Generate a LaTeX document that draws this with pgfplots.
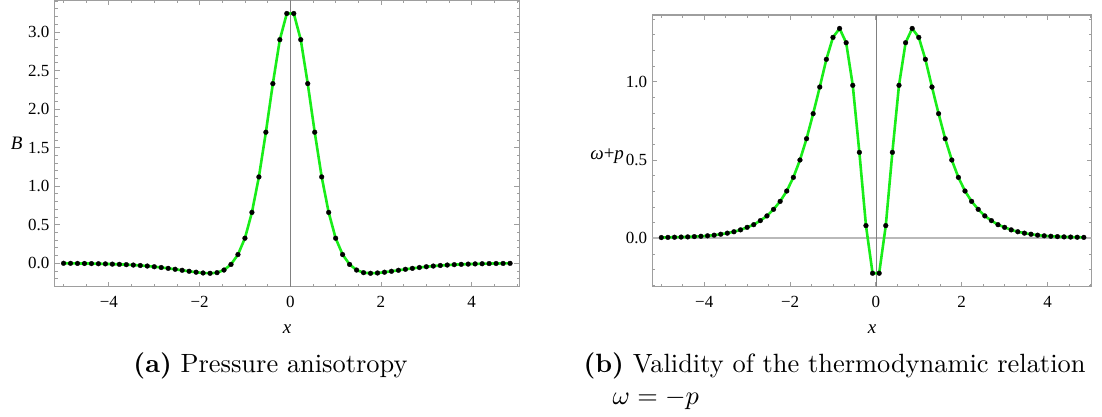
\documentclass[border=0pt]{standalone}
\usepackage{pgfplots}
\pgfplotsset{compat=1.18}
\usepackage{pgfplotstable}
\usepackage{fontspec}
\newfontfamily\tf{Liberation Serif}
\definecolor{mgreen}{rgb}{0.1,0.93,0.1}
\definecolor{framegray}{gray}{0.62}

\pgfplotstableread{
x y
-5.0000 0.000
-4.8462 -0.001
-4.6923 -0.002
-4.5385 -0.003
-4.3846 -0.004
-4.2308 -0.006
-4.0769 -0.008
-3.9231 -0.011
-3.7692 -0.014
-3.6154 -0.018
-3.4615 -0.023
-3.3077 -0.029
-3.1538 -0.036
-3.0000 -0.045
-2.8462 -0.055
-2.6923 -0.066
-2.5385 -0.078
-2.3846 -0.091
-2.2308 -0.104
-2.0769 -0.116
-1.9231 -0.126
-1.7692 -0.130
-1.6154 -0.122
-1.4615 -0.088
-1.3077 -0.015
-1.1538 0.113
-1.0000 0.325
-0.8462 0.66
-0.6923 1.12
-0.5385 1.70
-0.3846 2.33
-0.2308 2.90
-0.0769 3.24
0.0769 3.24
0.2308 2.90
0.3846 2.33
0.5385 1.70
0.6923 1.12
0.8462 0.66
1.0000 0.325
1.1538 0.113
1.3077 -0.015
1.4615 -0.088
1.6154 -0.122
1.7692 -0.130
1.9231 -0.126
2.0769 -0.116
2.2308 -0.104
2.3846 -0.091
2.5385 -0.078
2.6923 -0.066
2.8462 -0.055
3.0000 -0.045
3.1538 -0.036
3.3077 -0.029
3.4615 -0.023
3.6154 -0.018
3.7692 -0.014
3.9231 -0.011
4.0769 -0.008
4.2308 -0.006
4.3846 -0.004
4.5385 -0.003
4.6923 -0.002
4.8462 -0.001
}\Btab

\pgfplotstableread{
x y
-5.0000 0.005
-4.8462 0.006
-4.6923 0.007
-4.5385 0.008
-4.3846 0.009
-4.2308 0.011
-4.0769 0.013
-3.9231 0.016
-3.7692 0.020
-3.6154 0.026
-3.4615 0.033
-3.3077 0.042
-3.1538 0.054
-3.0000 0.070
-2.8462 0.087
-2.6923 0.113
-2.5385 0.143
-2.3846 0.185
-2.2308 0.236
-2.0769 0.302
-1.9231 0.389
-1.7692 0.500
-1.6154 0.636
-1.4615 0.796
-1.3077 0.966
-1.1538 1.143
-1.0000 1.283
-0.8462 1.340
-0.6923 1.249
-0.5385 0.977
-0.3846 0.549
-0.2308 0.081
-0.0769 -0.223
0.0769 -0.223
0.2308 0.081
0.3846 0.549
0.5385 0.977
0.6923 1.249
0.8462 1.340
1.0000 1.283
1.1538 1.143
1.3077 0.966
1.4615 0.796
1.6154 0.636
1.7692 0.500
1.9231 0.389
2.0769 0.302
2.2308 0.236
2.3846 0.185
2.5385 0.143
2.6923 0.113
2.8462 0.087
3.0000 0.070
3.1538 0.054
3.3077 0.042
3.4615 0.033
3.6154 0.026
3.7692 0.020
3.9231 0.016
4.0769 0.013
4.2308 0.011
4.3846 0.009
4.5385 0.008
4.6923 0.007
4.8462 0.006
}\Wtab

\pgfplotsset{mma/.style={
  scale only axis,
  anchor=south west,
  axis line style={framegray, line width=1.1pt},
  tick style={framegray, line width=0.8pt},
  tick align=inside,
  major tick length=5pt,
  minor tick length=2.8pt,
  xtick={-4,-2,0,2,4},
  xticklabels={−4,−2,0,2,4},
  minor xtick={-5,-4.5,...,5},
  xticklabel style={font=\tf\fontsize{17}{20}\selectfont, anchor=north, inner sep=0pt, yshift=-9pt},
  yticklabel style={font=\tf\fontsize{17}{20}\selectfont, anchor=east, inner sep=0pt, xshift=-5pt},
  xlabel={\textit{x}},
  xlabel style={at={(axis description cs:0.5,0)}, anchor=north, inner sep=0pt, yshift=-38pt, font=\tf\fontsize{19}{22}\selectfont},
  ylabel style={rotate=-90, anchor=east, inner sep=0pt, font=\tf\fontsize{19}{22}\selectfont},
  curve/.style={mgreen, line width=2.6pt, mark=*, mark size=2.4pt,
    mark options={solid, fill=black, draw=black, line width=0.3pt}},
}}

\begin{document}
\begin{tikzpicture}
\useasboundingbox (0,0) rectangle (1102pt,416pt);

\begin{axis}[mma,
  at={(54.7pt,129.3pt)},
  width=464.6pt, height=286.7pt,
  xmin=-5.195, xmax=5.05, ymin=-0.304, ymax=3.415,
  ytick={0,0.5,1,1.5,2,2.5,3},
  yticklabels={0.0,0.5,1.0,1.5,2.0,2.5,3.0},
  minor ytick={-0.3,-0.2,...,3.4},
  ylabel={\textit{B}},
  ylabel style={at={(axis description cs:-0.069,0.5)}},
]
\draw[gray, line width=0.7pt] (axis cs:0,-0.304) -- (axis cs:0,3.415);
\addplot[curve] table {\Btab};
\end{axis}

\begin{axis}[mma,
  at={(652.3pt,129.3pt)},
  width=439.4pt, height=271.7pt,
  xmin=-5.21, xmax=5.03, ymin=-0.309, ymax=1.426,
  ytick={0,0.5,1},
  yticklabels={0.0,0.5,1.0},
  minor ytick={-0.3,-0.2,...,1.4},
  ylabel={\textit{ω}+\textit{p}},
  ylabel style={at={(axis description cs:-0.064,0.48)}},
]
\draw[gray!55, line width=1.8pt] (axis cs:-5.21,0) -- (axis cs:5.03,0);
\draw[gray, line width=0.7pt] (axis cs:0,-0.309) -- (axis cs:0,1.426);
\addplot[curve] table {\Wtab};
\end{axis}

\node[anchor=base, scale=2.64, inner sep=0pt, font=\fontsize{10}{12}\selectfont] at (270.5pt,44pt) {\textbf{(a)} Pressure anisotropy};
\node[anchor=base west, scale=2.64, inner sep=0pt, font=\fontsize{10}{12}\selectfont] at (583pt,44pt) {\textbf{(b)} Validity of the thermodynamic relation};
\node[anchor=base west, scale=2.64, inner sep=0pt, font=\fontsize{10}{12}\selectfont] at (612pt,12pt) {$\omega = -p$};
\end{tikzpicture}
\end{document}
